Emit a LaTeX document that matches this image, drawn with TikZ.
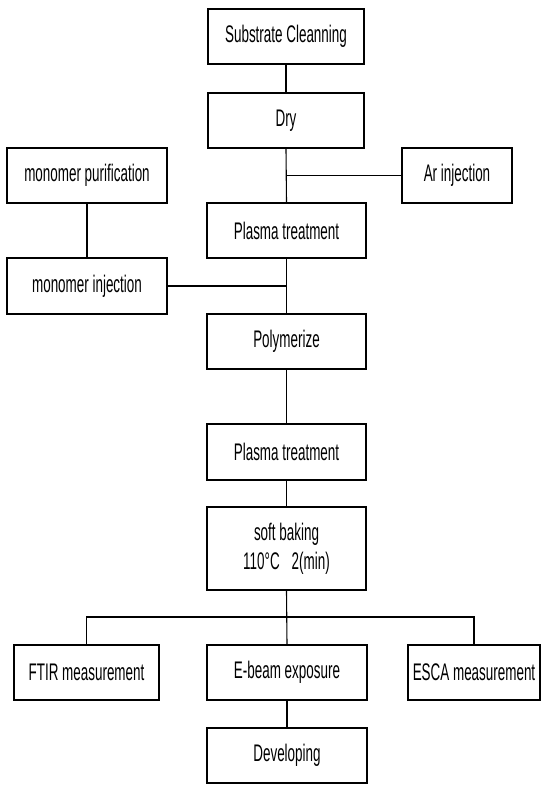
\documentclass[tikz,border=0pt]{standalone}
\usepackage{fontspec}
\setmainfont{Liberation Sans}[FakeStretch=0.56]
\begin{document}
\begin{tikzpicture}[x=1pt,y=-1pt,
  box/.style={draw,line width=1.1pt,rectangle,inner sep=0pt,align=center,
    font=\fontsize{24}{29}\selectfont},
  conn/.style={line width=1.1pt}]
\useasboundingbox (0,0) rectangle (542,785);
\node[box,minimum width=156pt,minimum height=55pt] (sub) at (286,36.5) {Substrate Cleanning};
\node[box,minimum width=156pt,minimum height=55pt] (dry) at (286,120.5) {Dry};
\node[box,minimum width=110pt,minimum height=55pt] (ar) at (457,175.5) {Ar injection};
\node[box,minimum width=160pt,minimum height=55pt] (mpur) at (87,175.5) {monomer purification};
\node[box,minimum width=159pt,minimum height=55pt] (pl1) at (286.5,230.5) {Plasma treatment};
\node[box,minimum width=160pt,minimum height=56pt] (minj) at (87,286) {monomer injection};
\node[box,minimum width=159pt,minimum height=55pt] (poly) at (286.5,341.5) {Polymerize};
\node[box,minimum width=159pt,minimum height=56pt] (pl2) at (286.5,452) {Plasma treatment};
\node[box,minimum width=159pt,minimum height=83pt] (bake) at (286.5,548.5) {soft baking\\110°C\enspace 2(min)};
\node[box,minimum width=145pt,minimum height=55pt] (ftir) at (86.5,672.5) {FTIR measurement};
\node[box,minimum width=160pt,minimum height=55pt] (ebeam) at (287,672.5) {E-beam exposure};
\node[box,minimum width=132pt,minimum height=55pt] (esca) at (474,672.5) {ESCA measurement};
\node[box,minimum width=160pt,minimum height=55pt] (dev) at (287,755.5) {Developing};
\coordinate (jar) at (dry.south |- ar.west);
\coordinate (jmon) at (pl1.south |- minj.east);
\coordinate (jb) at (286.5,617);
\draw[conn] (sub.south) -- (dry.north);
\draw[conn] (dry.south) -- (pl1.north);
\draw[conn] (jar) -- (ar.west);
\draw[conn] (mpur.south) -- (minj.north);
\draw[conn] (pl1.south) -- (poly.north);
\draw[conn] (minj.east) -- (jmon);
\draw[conn] (poly.south) -- (pl2.north);
\draw[conn] (pl2.south) -- (bake.north);
\draw[conn] (bake.south) -- (ebeam.north);
\draw[conn] (ftir.north) |- (jb) -| (esca.north);
\draw[conn] (ebeam.south) -- (dev.north);
\end{tikzpicture}
\end{document}
